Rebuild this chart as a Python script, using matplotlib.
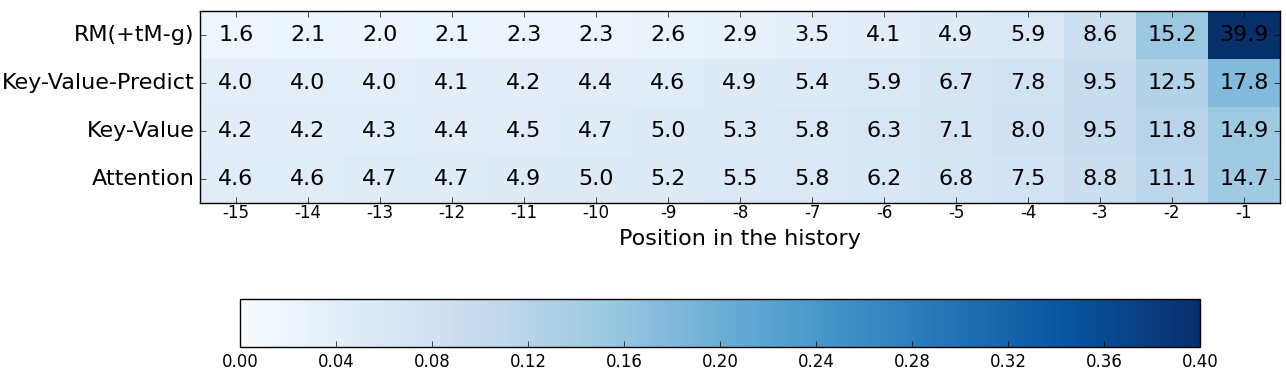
import numpy as np
import matplotlib
matplotlib.use("Agg")
import matplotlib.pyplot as plt

plt.style.use("classic")

models = ["RM(+tM-g)", "Key-Value-Predict", "Key-Value", "Attention"]
positions = ["-15", "-14", "-13", "-12", "-11", "-10", "-9", "-8",
             "-7", "-6", "-5", "-4", "-3", "-2", "-1"]
rm_tmg = [1.6, 2.1, 2.0, 2.1, 2.3, 2.3, 2.6, 2.9, 3.5, 4.1, 4.9, 5.9, 8.6, 15.2, 39.9]
kv_predict = [4.0, 4.0, 4.0, 4.1, 4.2, 4.4, 4.6, 4.9, 5.4, 5.9, 6.7, 7.8, 9.5, 12.5, 17.8]
key_value = [4.2, 4.2, 4.3, 4.4, 4.5, 4.7, 5.0, 5.3, 5.8, 6.3, 7.1, 8.0, 9.5, 11.8, 14.9]
attention = [4.6, 4.6, 4.7, 4.7, 4.9, 5.0, 5.2, 5.5, 5.8, 6.2, 6.8, 7.5, 8.8, 11.1, 14.7]

data = np.array([rm_tmg, kv_predict, key_value, attention])

fig = plt.figure(figsize=(12.86, 3.80), dpi=100)
fig.patch.set_facecolor("white")
ax = fig.add_axes([200/1286, 1 - 203/380, 1080/1286, 192/380])
cax = fig.add_axes([240/1286, 1 - 347/380, 960/1286, 48/380])

im = ax.imshow(data / 100.0, cmap="Blues", vmin=0, vmax=0.4,
               aspect="auto", interpolation="nearest")

for i in range(data.shape[0]):
    for j in range(data.shape[1]):
        ax.text(j, i, "%.1f" % data[i, j], ha="center", va="center",
                fontsize=16, color="black")

ax.set_xticks(range(len(positions)))
ax.set_xticklabels(positions, fontsize=12)
ax.set_yticks(range(len(models)))
ax.set_yticklabels(models, fontsize=16)
ax.tick_params(axis="x", pad=1)
ax.set_xlabel("Position in the history", fontsize=16)
ax.set_xlim(-0.5, len(positions) - 0.5)
ax.set_ylim(len(models) - 0.5, -0.5)

cb = fig.colorbar(im, cax=cax, orientation="horizontal",
                  ticks=np.arange(0, 0.41, 0.04))
cb.ax.set_xticklabels(["%.2f" % t for t in np.arange(0, 0.41, 0.04)], fontsize=12)

fig.savefig("out.png", dpi=100, facecolor="white")
